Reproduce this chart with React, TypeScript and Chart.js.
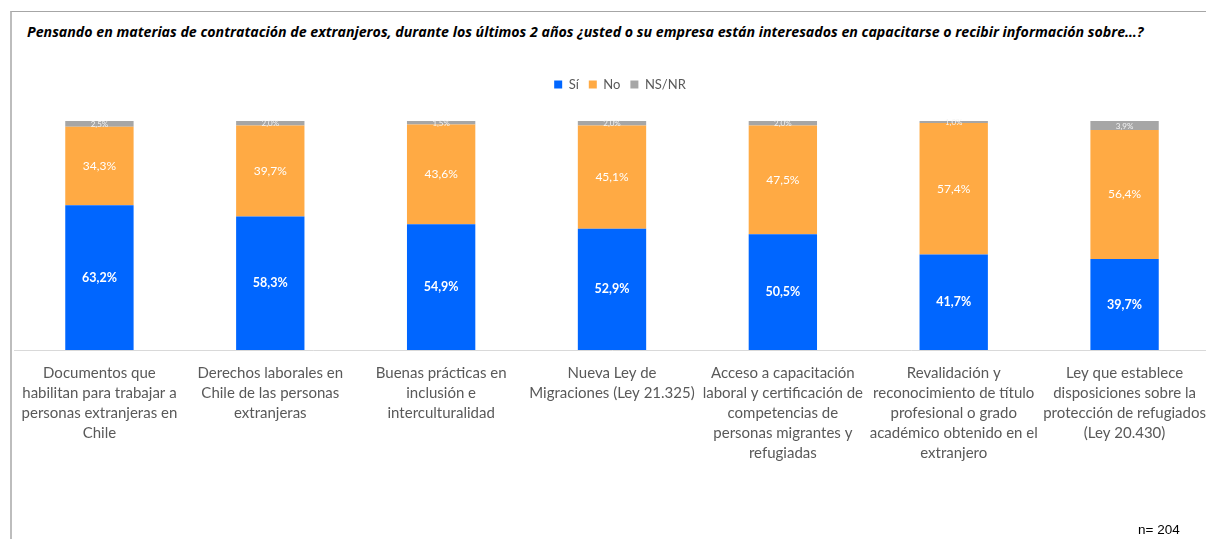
import React, { useEffect, useRef } from "react";
import { Chart, registerables } from "chart.js";

Chart.register(...registerables);

const categories: string[][] = [
  ["Documentos que", "habilitan para trabajar a", "personas extranjeras en", "Chile"],
  ["Derechos laborales en", "Chile de las personas", "extranjeras"],
  ["Buenas prácticas en", "inclusión e", "interculturalidad"],
  ["Nueva Ley de", "Migraciones (Ley 21.325)"],
  ["Acceso a capacitación", "laboral y certificación de", "competencias de", "personas migrantes y", "refugiadas"],
  ["Revalidación y", "reconocimiento de título", "profesional o grado", "académico obtenido en el", "extranjero"],
  ["Ley que establece", "disposiciones sobre la", "protección de refugiados", "(Ley 20.430)"],
];

const seriesNames = ["Sí", "No", "NS/NR"];
const siValues = [63.2, 58.3, 54.9, 52.9, 50.5, 41.7, 39.7];
const noValues = [34.3, 39.7, 43.6, 45.1, 47.5, 57.4, 56.4];
const nsValues = [2.5, 2.0, 1.5, 2.0, 2.0, 1.0, 3.9];

const titleText =
  "Pensando en materias de contratación de extranjeros, durante los últimos 2 años ¿usted o su empresa están interesados en capacitarse o recibir información sobre…?";
const sampleText = "n= 204";

const colors = ["#0066FF", "#FFAA44", "#A6A6A6"];
const FONT = "Lato, 'Open Sans', sans-serif";

const fmt = (v: number) => v.toFixed(1).replace(".", ",") + "%";

const barLabelPlugin = {
  id: "barLabels",
  afterDatasetsDraw(chart: any) {
    const ctx = chart.ctx;
    chart.data.datasets.forEach((ds: any, di: number) => {
      const meta = chart.getDatasetMeta(di);
      meta.data.forEach((bar: any, i: number) => {
        const v = ds.data[i] as number;
        const p = bar.getProps(["x", "y", "base"], true);
        const cy = (p.y + p.base) / 2;
        ctx.save();
        ctx.fillStyle = di === 2 ? "#F4F4F4" : "#FFFFFF";
        ctx.font =
          di === 0 ? `bold 12.5px ${FONT}` : di === 1 ? `12px ${FONT}` : `8px ${FONT}`;
        ctx.textAlign = "center";
        ctx.textBaseline = "middle";
        ctx.fillText(fmt(v), p.x, cy + (di === 2 ? 0.5 : 0));
        ctx.restore();
      });
    });
  },
};

const legendSpacingPlugin = {
  id: "legendSpacing",
  beforeInit(chart: any) {
    const legend = chart.legend;
    if (!legend) return;
    const origFit = legend.fit;
    legend.fit = function () {
      origFit.call(this);
      this.height += 20;
    };
  },
  afterLayout(chart: any) {
    const legend = chart.legend;
    if (!legend) return;
    legend.left += 8;
    legend.right += 8;
  },
};

export default function App() {
  const canvasRef = useRef<HTMLCanvasElement | null>(null);

  useEffect(() => {
    if (!canvasRef.current) return;
    const chart = new Chart(canvasRef.current, {
      type: "bar",
      data: {
        labels: categories,
        datasets: [
          { label: seriesNames[0], data: siValues, backgroundColor: colors[0] },
          { label: seriesNames[1], data: noValues, backgroundColor: colors[1] },
          { label: seriesNames[2], data: nsValues, backgroundColor: colors[2] },
        ],
      },
      options: {
        animation: false,
        responsive: true,
        maintainAspectRatio: false,
        layout: { padding: 0 },
        datasets: {
          bar: {
            barPercentage: 0.4,
            categoryPercentage: 1,
            borderWidth: 0,
          },
        },
        scales: {
          x: {
            stacked: true,
            grid: { display: false, drawTicks: false },
            border: { display: true, color: "#D9D9D9", width: 1 },
            ticks: {
              color: "#595959",
              font: { family: FONT, size: 15, lineHeight: 1.333 },
              padding: 13,
              maxRotation: 0,
              minRotation: 0,
              autoSkip: false,
            },
            afterFit(scale: any) {
              scale.height = 189;
              scale.paddingLeft = 0;
              scale.paddingRight = 0;
            },
          },
          y: {
            stacked: true,
            display: false,
            min: 0,
            max: 100,
          },
        },
        plugins: {
          legend: {
            display: true,
            position: "top",
            labels: {
              boxWidth: 8,
              boxHeight: 8,
              padding: 10,
              color: "#595959",
              font: { family: FONT, size: 13 },
            },
          },
          title: { display: false },
          tooltip: { enabled: false },
        },
      },
      plugins: [barLabelPlugin, legendSpacingPlugin],
    } as any);
    return () => chart.destroy();
  }, []);

  return (
    <div
      style={{
        position: "absolute",
        left: 0,
        top: 0,
        width: 1206,
        height: 539,
        overflow: "hidden",
        background: "#FFFFFF",
      }}
    >
      <div
        style={{
          position: "absolute",
          left: 10,
          top: 11,
          width: 1400,
          height: 700,
          borderLeft: "2px solid #BDBDBD",
          borderTop: "1px solid #A6A6A6",
        }}
      />
      <div
        style={{
          position: "absolute",
          left: 27,
          top: 22,
          whiteSpace: "nowrap",
          fontFamily: "'Open Sans', sans-serif",
          fontStyle: "italic",
          fontWeight: "bold",
          fontSize: 14.2,
          color: "#000000",
        }}
      >
        {titleText}
      </div>
      <div
        style={{
          position: "absolute",
          left: 14,
          top: 68,
          width: 1196,
          height: 471,
        }}
      >
        <canvas ref={canvasRef} />
      </div>
      <div
        style={{
          position: "absolute",
          left: 1138,
          top: 522,
          fontFamily: "'Liberation Sans', Arial, sans-serif",
          fontSize: 13.5,
          color: "#000000",
        }}
      >
        {sampleText}
      </div>
    </div>
  );
}
